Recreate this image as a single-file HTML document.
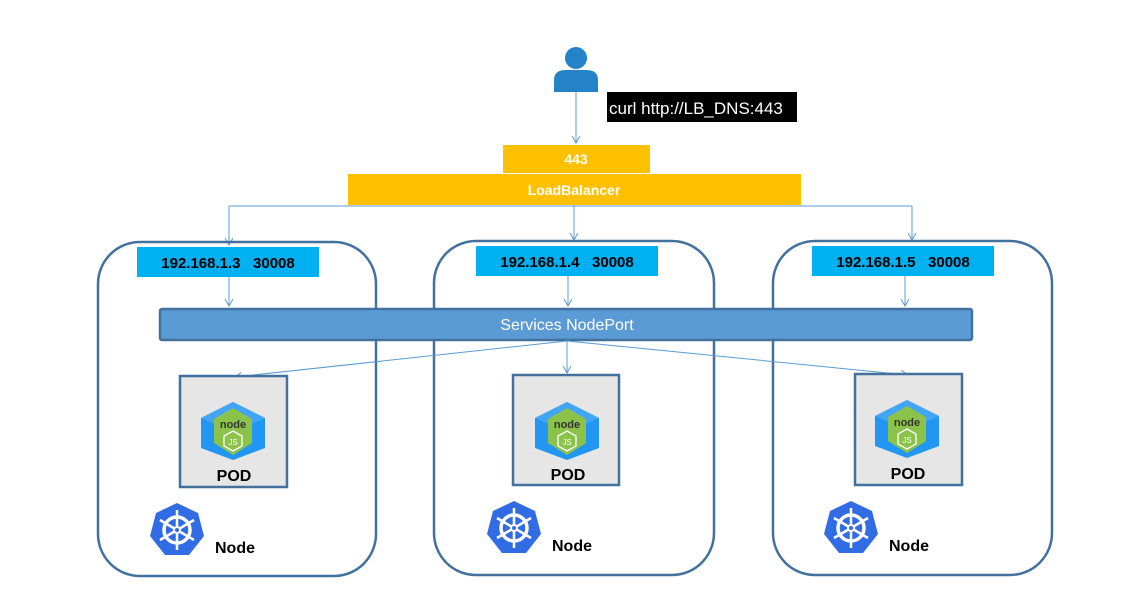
<!DOCTYPE html>
<html><head><meta charset="utf-8"><style>
html,body{margin:0;padding:0;background:#fff;}
svg{display:block;}
text{font-family:"Liberation Sans",Arial,sans-serif;}
</style></head><body>
<svg width="1144" height="595" viewBox="0 0 1144 595" xmlns="http://www.w3.org/2000/svg">
<defs>
<marker id="ar" markerWidth="10" markerHeight="10" refX="8" refY="5" orient="auto" markerUnits="userSpaceOnUse">
<path d="M1,1 L8,5 L1,9" fill="none" stroke="#5b9bd5" stroke-width="1"/>
</marker>
<g id="njs">
<polygon points="0,-28 32,-12 32,18 0,30 -32,18 -32,-12" fill="#2196f3"/>
<polygon points="0,-28 32,-12 0,2 -32,-12" fill="#42a5f5"/>
<polygon points="0,-22 19,-11 19,13 0,25 -19,13 -19,-11" fill="#8bc34a"/>
<text x="0" y="-2" font-size="11" font-weight="bold" text-anchor="middle" fill="#333">node</text>
<polygon points="0,1 9,6 9,16 0,21 -9,16 -9,6" fill="none" stroke="#fff" stroke-width="1.3"/>
<text x="0" y="15" font-size="8" text-anchor="middle" fill="#fff">JS</text>
</g>
<g id="k8s">
<polygon points="0,-27 21,-17 27,6 12,25 -12,25 -27,6 -21,-17" fill="#326ce5"/>
<circle r="13" fill="none" stroke="#fff" stroke-width="3.5"/>
<circle r="4" fill="#fff"/>
<g stroke="#fff" stroke-width="2.5">
<line x1="0" y1="-20" x2="0" y2="20"/>
<line x1="-17" y1="-10" x2="17" y2="10"/>
<line x1="-17" y1="10" x2="17" y2="-10"/>
</g>
<circle r="2" fill="#326ce5"/>
</g>
</defs>

<circle cx="576" cy="58" r="11" fill="#2382c8"/>
<path d="M554,92 L554,80 Q554,70 566,70 L586,70 Q598,70 598,80 L598,92 Z" fill="#2382c8"/>
<line x1="576" y1="92" x2="576" y2="143" stroke="#5b9bd5" stroke-width="1" marker-end="url(#ar)"/>
<rect x="607" y="92" width="190" height="30" fill="#000"/>
<text x="609" y="114" font-size="17" fill="#fff">curl http://LB_DNS:443</text>

<rect x="503" y="145" width="147" height="28" fill="#ffc000"/>
<text x="576" y="164" font-size="14" font-weight="bold" fill="#fff" text-anchor="middle">443</text>
<rect x="348" y="174" width="453" height="31" fill="#ffc000"/>
<text x="574" y="195" font-size="14" font-weight="bold" fill="#fff" text-anchor="middle">LoadBalancer</text>

<polyline points="229,206 912,206" fill="none" stroke="#5b9bd5" stroke-width="1"/>
<line x1="229" y1="206" x2="229" y2="245" stroke="#5b9bd5" marker-end="url(#ar)"/>
<line x1="574" y1="205" x2="574" y2="240" stroke="#5b9bd5" marker-end="url(#ar)"/>
<line x1="912" y1="206" x2="912" y2="240" stroke="#5b9bd5" marker-end="url(#ar)"/>

<rect x="98" y="242" width="278" height="334" rx="42" fill="none" stroke="#41719c" stroke-width="2.5"/>
<rect x="434" y="241" width="280" height="334" rx="42" fill="none" stroke="#41719c" stroke-width="2.5"/>
<rect x="773" y="241" width="279" height="334" rx="42" fill="none" stroke="#41719c" stroke-width="2.5"/>

<rect x="137" y="247" width="182" height="30" fill="#00b0f0"/>
<text x="228" y="268" font-size="15" font-weight="bold" text-anchor="middle" xml:space="preserve">192.168.1.3   30008</text>
<rect x="476" y="246" width="182" height="30" fill="#00b0f0"/>
<text x="567" y="267" font-size="15" font-weight="bold" text-anchor="middle" xml:space="preserve">192.168.1.4   30008</text>
<rect x="812" y="246" width="182" height="30" fill="#00b0f0"/>
<text x="903" y="267" font-size="15" font-weight="bold" text-anchor="middle" xml:space="preserve">192.168.1.5   30008</text>

<line x1="229" y1="277" x2="229" y2="306" stroke="#5b9bd5" marker-end="url(#ar)"/>
<line x1="568" y1="276" x2="568" y2="306" stroke="#5b9bd5" marker-end="url(#ar)"/>
<line x1="905" y1="276" x2="905" y2="306" stroke="#5b9bd5" marker-end="url(#ar)"/>

<rect x="160" y="309" width="812" height="31" fill="#5b9bd5" stroke="#41719c" stroke-width="2.5" rx="2"/>
<text x="567" y="330" font-size="16" fill="#fff" text-anchor="middle">Services NodePort</text>

<line x1="567" y1="341" x2="235" y2="377" stroke="#5b9bd5" marker-end="url(#ar)"/>
<line x1="567" y1="341" x2="567" y2="373" stroke="#5b9bd5" marker-end="url(#ar)"/>
<line x1="567" y1="341" x2="908" y2="375" stroke="#5b9bd5" marker-end="url(#ar)"/>

<rect x="180" y="376" width="107" height="111" fill="#e6e6e6" stroke="#41719c" stroke-width="2.5"/>
<use href="#njs" x="233" y="430"/>
<text x="234" y="481" font-size="16" font-weight="bold" text-anchor="middle">POD</text>
<rect x="513" y="375" width="106" height="110" fill="#e6e6e6" stroke="#41719c" stroke-width="2.5"/>
<use href="#njs" x="567" y="430"/>
<text x="568" y="480" font-size="16" font-weight="bold" text-anchor="middle">POD</text>
<rect x="855" y="374" width="107" height="111" fill="#e6e6e6" stroke="#41719c" stroke-width="2.5"/>
<use href="#njs" x="907" y="428"/>
<text x="908" y="479" font-size="16" font-weight="bold" text-anchor="middle">POD</text>

<use href="#k8s" x="177" y="530"/>
<text x="215" y="553" font-size="16" font-weight="bold">Node</text>
<use href="#k8s" x="514" y="528"/>
<text x="552" y="551" font-size="16" font-weight="bold">Node</text>
<use href="#k8s" x="851" y="528"/>
<text x="889" y="551" font-size="16" font-weight="bold">Node</text>
</svg>
</body></html>
